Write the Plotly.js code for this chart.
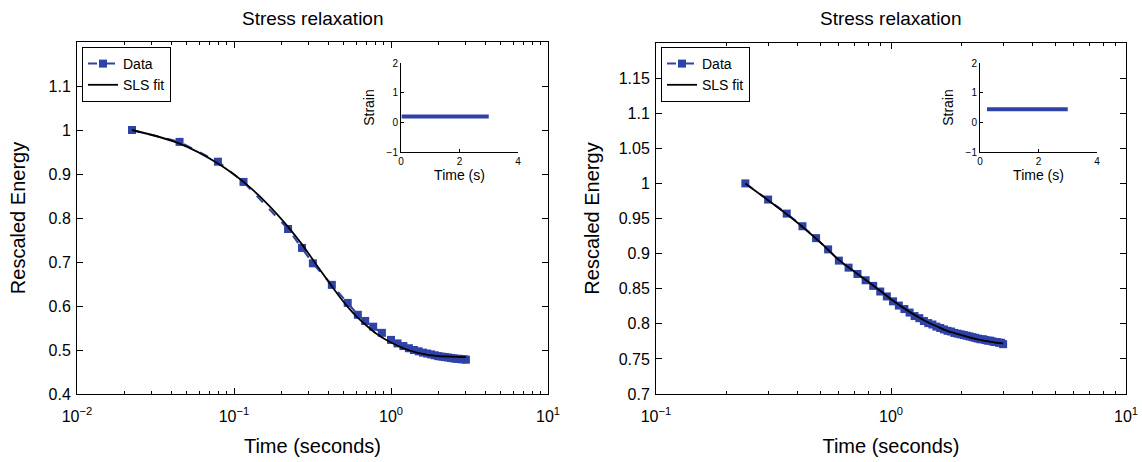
<!DOCTYPE html>
<html>
<head>
<meta charset="utf-8">
<script src="https://cdn.plot.ly/plotly-3.0.1.min.js"></script>
<style>html,body{margin:0;padding:0;background:#fff;}#chart{width:1142px;height:462px;}</style>
</head>
<body>
<div id="chart"></div>
<script>
// ---------- data ----------
const leftDataT = [0.0224, 0.045, 0.079, 0.115, 0.221, 0.271, 0.318, 0.42, 0.53, 0.615, 0.685, 0.77, 0.875, 1.0,
  1.1, 1.2, 1.3, 1.4, 1.5, 1.6, 1.7, 1.8, 1.9, 2.0, 2.1, 2.2, 2.3, 2.4, 2.5, 2.6, 2.7, 2.8, 2.9, 3.0];
const leftDataE = [1.0, 0.973, 0.928, 0.882, 0.775, 0.732, 0.697, 0.648, 0.607, 0.58, 0.566, 0.553, 0.539, 0.523,
  0.515, 0.509, 0.504, 0.500, 0.497, 0.494, 0.492, 0.490, 0.488, 0.486, 0.485, 0.484, 0.483, 0.482, 0.481, 0.480, 0.480, 0.479, 0.479, 0.478];
const leftFitT = [0.0224, 0.045, 0.079, 0.115, 0.16, 0.221, 0.271, 0.318, 0.37, 0.42, 0.48, 0.53, 0.6, 0.7, 0.8, 0.9, 1.0, 1.2, 1.4, 1.6, 1.8, 2.0, 2.4, 3.0];
const leftFitE = [1.0, 0.969, 0.924, 0.882, 0.835, 0.780, 0.740, 0.705, 0.672, 0.645, 0.617, 0.598, 0.577, 0.555, 0.538, 0.526, 0.517, 0.504, 0.496, 0.491, 0.488, 0.486, 0.485, 0.484];

const rightDataT = [0.24, 0.30, 0.36, 0.42, 0.48, 0.54, 0.60, 0.66, 0.72, 0.78, 0.84, 0.90, 0.96, 1.02, 1.08, 1.14, 1.20, 1.26,
  1.32, 1.38, 1.44, 1.50, 1.56, 1.62, 1.68, 1.74, 1.80, 1.86, 1.92, 1.98, 2.04, 2.10, 2.16, 2.22, 2.28, 2.34, 2.40, 2.46,
  2.52, 2.58, 2.64, 2.70, 2.76, 2.82, 2.88, 2.94, 3.00];
const rightDataE = [1.000, 0.977, 0.957, 0.939, 0.922, 0.906, 0.890, 0.880, 0.871, 0.862, 0.854, 0.846, 0.839, 0.832, 0.826, 0.821, 0.816, 0.811,
  0.808, 0.804, 0.801, 0.799, 0.796, 0.794, 0.792, 0.790, 0.789, 0.787, 0.786, 0.785, 0.784, 0.783, 0.782, 0.781, 0.780, 0.779, 0.778, 0.778,
  0.777, 0.776, 0.776, 0.775, 0.774, 0.774, 0.773, 0.773, 0.771];
const rightFitT = [0.24, 0.3, 0.4, 0.5, 0.6, 0.7, 0.8, 0.9, 1.0, 1.2, 1.4, 1.6, 1.8, 2.0, 2.2, 2.4, 2.6, 2.8, 3.0];
const rightFitE = [1.0, 0.976, 0.944, 0.916, 0.891, 0.874, 0.860, 0.847, 0.835, 0.817, 0.804, 0.795, 0.788, 0.784, 0.780, 0.777, 0.775, 0.773, 0.772];

const leftStrainT = [0.0224, 3.0];
const leftStrain = [0.2, 0.2];
const rightStrainT = [0.24, 3.0];
const rightStrain = [0.44, 0.44];

const leftYTicks = [0.4, 0.5, 0.6, 0.7, 0.8, 0.9, 1.0, 1.1];
const leftYLabels = ['0.4', '0.5', '0.6', '0.7', '0.8', '0.9', '1', '1.1'];
const rightYTicks = [0.7, 0.75, 0.8, 0.85, 0.9, 0.95, 1.0, 1.05, 1.1, 1.15];
const rightYLabels = ['0.7', '0.75', '0.8', '0.85', '0.9', '0.95', '1', '1.05', '1.1', '1.15'];
const leftXTicks = [0.01, 0.1, 1, 10];
const leftXLabels = ['10<sup>−2</sup>', '10<sup>−1</sup>', '10<sup>0</sup>', '10<sup>1</sup>'];
const rightXTicks = [0.1, 1, 10];
const rightXLabels = ['10<sup>−1</sup>', '10<sup>0</sup>', '10<sup>1</sup>'];
const insetXTicks = [0, 2, 4];
const insetYTicks = [-1, 0, 1, 2];
const insetYLabels = ['−1', '0', '1', '2'];

// ---------- styling ----------
const W = 1142, H = 462;
const FONT = 'Liberation Sans, Arial, Helvetica, sans-serif';
const BLUE = 'rgb(46,66,168)';
const px = v => v / W;
const py = v => 1 - v / H;

function minorLog(lo, hi) {
  const out = [];
  for (let e = lo; e < hi; e++) for (let d = 2; d <= 9; d++) out.push(d * Math.pow(10, e));
  return out;
}

function mainX(domain, tv, tt, range, lo, hi) {
  return {
    domain: domain, type: 'log', range: range,
    tickmode: 'array', tickvals: tv, ticktext: tt,
    ticks: 'inside', ticklen: 6, tickwidth: 1, tickcolor: '#000', ticklabelstandoff: 8,
    showline: true, linecolor: '#000', linewidth: 1, mirror: 'ticks',
    showgrid: false, zeroline: false,
    tickfont: {family: FONT, size: 16, color: '#000'},
    minor: {tickmode: 'array', tickvals: minorLog(lo, hi), ticks: 'inside', ticklen: 3, tickwidth: 1, tickcolor: '#000', showgrid: false},
    title: {text: 'Time (seconds)', font: {family: FONT, size: 20, color: '#000'}, standoff: 14}
  };
}
function mainY(domain, anchor, tv, tt, range, standoff) {
  return {
    domain: domain, anchor: anchor, range: range,
    tickmode: 'array', tickvals: tv, ticktext: tt,
    ticks: 'inside', ticklen: 6, tickwidth: 1, tickcolor: '#000', ticklabelstandoff: 2,
    showline: true, linecolor: '#000', linewidth: 1, mirror: 'ticks',
    showgrid: false, zeroline: false,
    tickfont: {family: FONT, size: 16, color: '#000'},
    title: {text: 'Rescaled Energy', font: {family: FONT, size: 20, color: '#000'}, standoff: standoff}
  };
}
function insetX(domain, anchor) {
  return {
    domain: domain, anchor: anchor, range: [0, 4],
    tickmode: 'array', tickvals: insetXTicks,
    ticks: 'inside', ticklen: 3, tickcolor: '#000',
    showline: true, linecolor: '#000', linewidth: 1, mirror: false,
    showgrid: false, zeroline: false,
    tickfont: {family: FONT, size: 10, color: '#000'},
    title: {text: 'Time (s)', font: {family: FONT, size: 14, color: '#000'}, standoff: 2}
  };
}
function insetY(domain, anchor) {
  return {
    domain: domain, anchor: anchor, range: [-1, 2],
    tickmode: 'array', tickvals: insetYTicks, ticktext: insetYLabels,
    ticks: 'inside', ticklen: 3, tickcolor: '#000',
    showline: true, linecolor: '#000', linewidth: 1, mirror: false,
    showgrid: false, zeroline: false,
    tickfont: {family: FONT, size: 10, color: '#000'},
    title: {text: 'Strain', font: {family: FONT, size: 14, color: '#000'}, standoff: 8}
  };
}

const dataStyle = {mode: 'lines+markers', line: {color: BLUE, width: 2, dash: 'dash'},
  marker: {symbol: 'square', size: 8, color: BLUE}};
const fitLine = {color: '#000', width: 1.8, shape: 'spline'};

const traces = [
  Object.assign({x: leftDataT, y: leftDataE, name: 'Data', xaxis: 'x', yaxis: 'y', legend: 'legend'}, dataStyle),
  {x: leftFitT, y: leftFitE, name: 'SLS fit', mode: 'lines', line: fitLine, xaxis: 'x', yaxis: 'y', legend: 'legend'},
  Object.assign({x: rightDataT, y: rightDataE, name: 'Data', xaxis: 'x2', yaxis: 'y2', legend: 'legend2'}, dataStyle),
  {x: rightFitT, y: rightFitE, name: 'SLS fit', mode: 'lines', line: fitLine, xaxis: 'x2', yaxis: 'y2', legend: 'legend2'},
  {x: leftStrainT, y: leftStrain, mode: 'lines', line: {color: BLUE, width: 4}, xaxis: 'x3', yaxis: 'y3', showlegend: false},
  {x: rightStrainT, y: rightStrain, mode: 'lines', line: {color: BLUE, width: 4}, xaxis: 'x4', yaxis: 'y4', showlegend: false}
];

const legendBase = {
  xanchor: 'left', yanchor: 'top', bgcolor: '#fff', bordercolor: '#000', borderwidth: 1,
  font: {family: FONT, size: 14, color: '#000'}, tracegroupgap: 0, itemwidth: 30
};

const layout = {
  width: W, height: H,
  margin: {l: 0, r: 0, t: 0, b: 0},
  paper_bgcolor: '#fff', plot_bgcolor: 'rgba(0,0,0,0)',
  font: {family: FONT, color: '#000'},
  xaxis: mainX([px(77), px(548)], leftXTicks, leftXLabels, [-2, 1], -2, 1),
  yaxis: mainY([1 - 394 / H, 1 - 42 / H], 'x', leftYTicks, leftYLabels, [0.4, 1.2], 17),
  xaxis2: Object.assign(mainX([px(656), px(1126)], rightXTicks, rightXLabels, [-1, 1], -1, 1), {anchor: 'y2'}),
  yaxis2: mainY([1 - 394 / H, 1 - 43 / H], 'x2', rightYTicks, rightYLabels, [0.7, 1.2], 13),
  xaxis3: insetX([px(401), px(518)], 'y3'),
  yaxis3: insetY([1 - 152 / H, 1 - 63 / H], 'x3'),
  xaxis4: insetX([px(980), px(1097)], 'y4'),
  yaxis4: insetY([1 - 152 / H, 1 - 63 / H], 'x4'),
  legend: Object.assign({x: px(82), y: py(47)}, legendBase),
  legend2: Object.assign({x: px(661), y: py(47)}, legendBase),
  annotations: [
    {text: 'Stress relaxation', xref: 'paper', yref: 'paper', x: px(312.5), y: py(18), showarrow: false,
     xanchor: 'center', yanchor: 'middle', font: {family: FONT, size: 19, color: '#000'}},
    {text: 'Stress relaxation', xref: 'paper', yref: 'paper', x: px(891), y: py(18), showarrow: false,
     xanchor: 'center', yanchor: 'middle', font: {family: FONT, size: 19, color: '#000'}}
  ],
  showlegend: true
};

Plotly.newPlot('chart', traces, layout, {displayModeBar: false, staticPlot: true});
</script>
</body>
</html>
